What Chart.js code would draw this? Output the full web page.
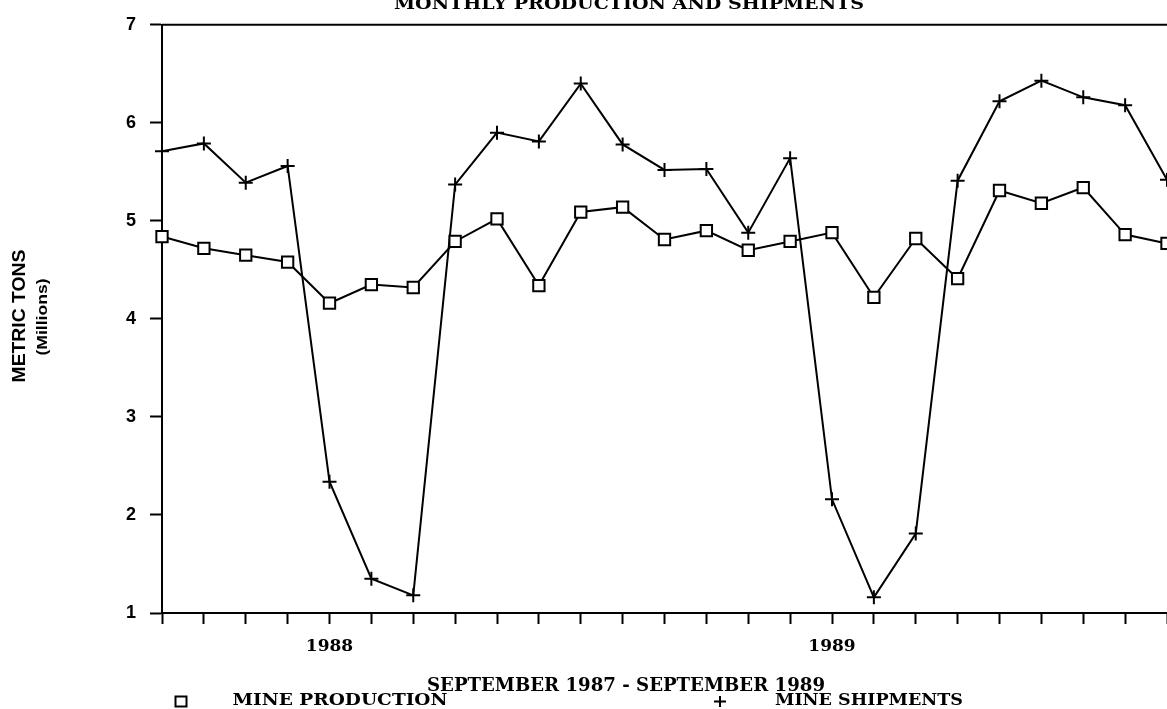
<!DOCTYPE html>
<html>
<head>
<meta charset="utf-8">
<title>Monthly Production and Shipments</title>
<script src="https://cdn.jsdelivr.net/npm/chart.js@4.4.1/dist/chart.umd.min.js"></script>
<style>
    html, body { margin: 0; padding: 0; background: #fff; overflow: hidden; }
    #wrap { position: absolute; left: 0; top: 0; width: 1180px; height: 709px; }
</style>
</head>
<body>
<div id="wrap"><canvas id="chart" width="1180" height="709"></canvas></div>
<script>
// Sep 1987 - Sep 1989, one point per month
const months = [
    "Sep 1987", "Oct 1987", "Nov 1987", "Dec 1987",
    "Jan 1988", "Feb 1988", "Mar 1988", "Apr 1988", "May 1988", "Jun 1988",
    "Jul 1988", "Aug 1988", "Sep 1988", "Oct 1988", "Nov 1988", "Dec 1988",
    "Jan 1989", "Feb 1989", "Mar 1989", "Apr 1989", "May 1989", "Jun 1989",
    "Jul 1989", "Aug 1989", "Sep 1989"
];

// x tick labels (only January carries the year)
const xTickLabels = [
    "", "", "", "", "1988", "", "", "", "", "", "", "", "",
    "", "", "", "1989", "", "", "", "", "", "", "", ""
];

const yTicks = [1, 2, 3, 4, 5, 6, 7];

// million metric tons
const mineProduction = [
    4.84, 4.72, 4.65, 4.58, 4.16, 4.35, 4.32, 4.79, 5.02, 4.34, 5.09, 5.14, 4.81,
    4.90, 4.70, 4.79, 4.88, 4.22, 4.82, 4.41, 5.31, 5.18, 5.34, 4.86, 4.77
];

const mineShipments = [
    5.71, 5.79, 5.39, 5.56, 2.34, 1.35, 1.18, 5.37, 5.90, 5.81, 6.40, 5.78, 5.52,
    5.53, 4.88, 5.64, 2.16, 1.16, 1.81, 5.41, 6.22, 6.43, 6.26, 6.18, 5.42
];

const serif = "'DejaVu Serif', 'Liberation Serif', serif";
const sans = "'Liberation Sans', Arial, sans-serif";

// draw text squeezed/stretched to a given width
function fitText(ctx, text, cx, cy, width, font, rotate) {
    ctx.save();
    ctx.font = font;
    const w = ctx.measureText(text).width;
    ctx.translate(cx, cy);
    if (rotate) ctx.rotate(-Math.PI / 2);
    ctx.scale(width / w, 1);
    ctx.textAlign = "center";
    ctx.textBaseline = "middle";
    ctx.fillStyle = "#000";
    ctx.fillText(text, 0, 0);
    ctx.restore();
}

const decorations = {
    id: "decorations",
    afterDraw(chart) {
        const ctx = chart.ctx;
        const area = chart.chartArea;

        // top frame line
        ctx.save();
        ctx.strokeStyle = "#000";
        ctx.lineWidth = 2;
        ctx.beginPath();
        ctx.moveTo(area.left, area.top);
        ctx.lineTo(area.right + 10, area.top);
        ctx.stroke();
        ctx.restore();

        fitText(ctx, "MONTHLY PRODUCTION AND SHIPMENTS", 629, 5, 470, "bold 17px " + serif);
        fitText(ctx, "SEPTEMBER 1987 - SEPTEMBER 1989", 626, 686, 398, "bold 18px " + serif);
        fitText(ctx, "METRIC TONS", 20, 316, 133, "bold 19px " + sans, true);
        fitText(ctx, "(Millions)", 43, 317, 77, "bold 14px " + sans, true);

        // legend row
        fitText(ctx, "MINE PRODUCTION", 340, 701, 215, "bold 17px " + serif);
        fitText(ctx, "MINE SHIPMENTS", 869, 701, 188, "bold 17px " + serif);
        ctx.save();
        ctx.strokeStyle = "#000";
        ctx.lineWidth = 2;
        ctx.strokeRect(175.5, 696.5, 11, 10);
        ctx.beginPath();
        ctx.moveTo(714, 701.5);
        ctx.lineTo(726, 701.5);
        ctx.moveTo(720, 696);
        ctx.lineTo(720, 707);
        ctx.stroke();
        ctx.restore();
    }
};

const ctx = document.getElementById("chart").getContext("2d");

new Chart(ctx, {
    type: "line",
    data: {
        labels: months,
        datasets: [
            {
                label: "MINE PRODUCTION",
                data: mineProduction,
                borderColor: "#000",
                borderWidth: 2,
                pointStyle: "rect",
                pointRadius: 8,
                pointBorderWidth: 2,
                pointBorderColor: "#000",
                pointBackgroundColor: "#fff",
                tension: 0,
                clip: false
            },
            {
                label: "MINE SHIPMENTS",
                data: mineShipments,
                borderColor: "#000",
                borderWidth: 2,
                pointStyle: "cross",
                pointRadius: 7,
                pointBorderWidth: 2,
                pointBorderColor: "#000",
                pointBackgroundColor: "#000",
                tension: 0,
                clip: false
            }
        ]
    },
    options: {
        responsive: false,
        animation: false,
        layout: { padding: { top: 23, right: 13, left: 0, bottom: 0 } },
        plugins: {
            legend: { display: false },
            tooltip: { enabled: false },
            title: { display: false }
        },
        scales: {
            x: {
                type: "category",
                offset: false,
                afterFit(scale) { scale.height = 96; },
                border: { display: true, color: "#000", width: 2 },
                grid: {
                    drawOnChartArea: false,
                    drawTicks: true,
                    tickLength: 11,
                    tickColor: "#000",
                    tickWidth: 2
                },
                ticks: {
                    autoSkip: false,
                    maxRotation: 0,
                    padding: 12,
                    color: "#000",
                    font: { family: serif, size: 17, weight: "bold" },
                    callback: (val, i) => xTickLabels[i]
                }
            },
            y: {
                min: 1,
                max: 7,
                afterFit(scale) { scale.width = 162; },
                afterBuildTicks(scale) { scale.ticks = yTicks.map(v => ({ value: v })); },
                border: { display: true, color: "#000", width: 2 },
                grid: {
                    drawOnChartArea: false,
                    drawTicks: true,
                    tickLength: 12,
                    tickColor: "#000",
                    tickWidth: 2
                },
                ticks: {
                    padding: 14,
                    color: "#000",
                    font: { family: sans, size: 18, weight: "bold" }
                }
            }
        }
    },
    plugins: [decorations]
});
</script>
</body>
</html>
